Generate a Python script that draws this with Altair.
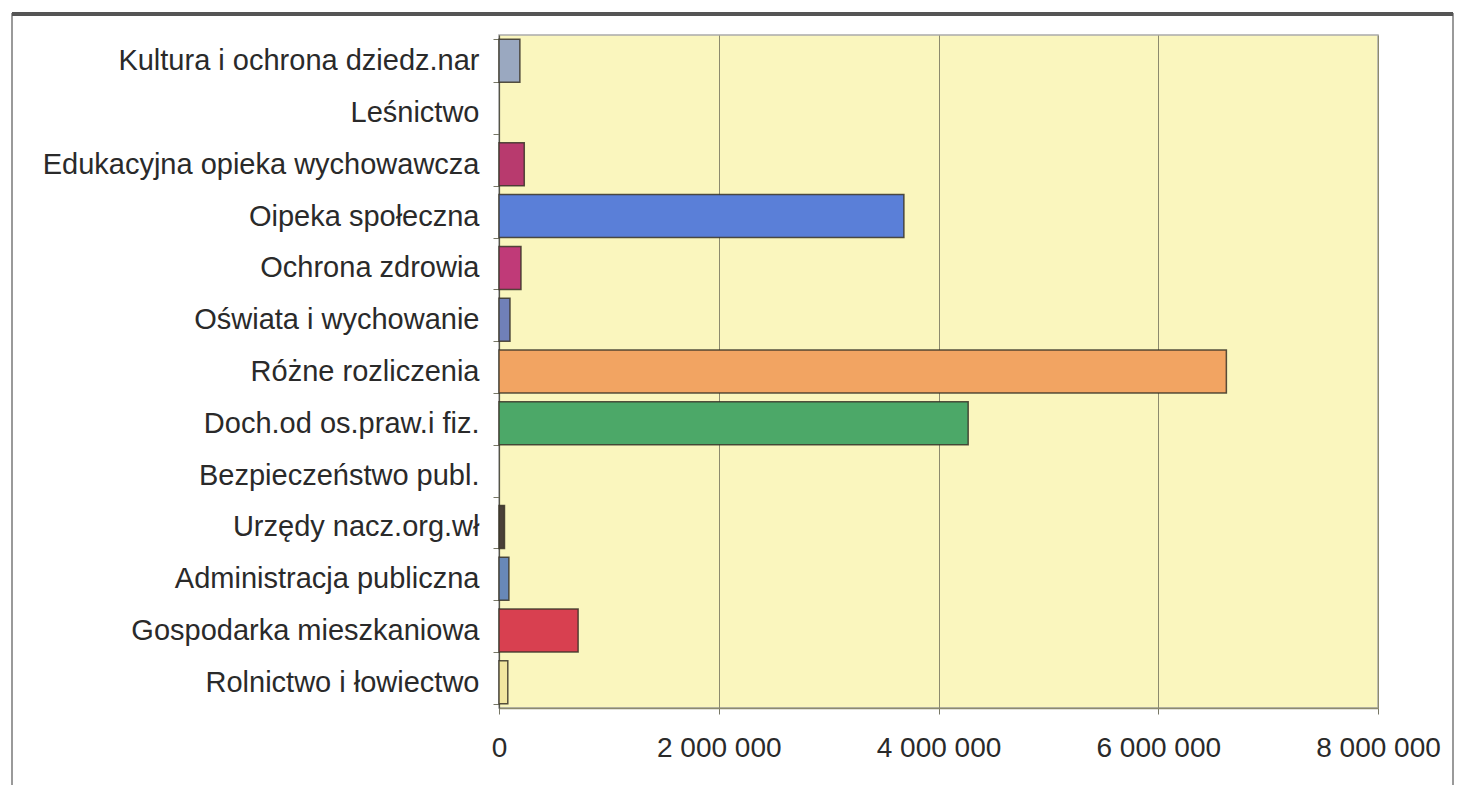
import altair as alt
import pandas as pd

categories = [
    "Kultura i ochrona dziedz.nar",
    "Leśnictwo",
    "Edukacyjna opieka wychowawcza",
    "Oipeka społeczna",
    "Ochrona zdrowia",
    "Oświata i wychowanie",
    "Różne rozliczenia",
    "Doch.od os.praw.i fiz.",
    "Bezpieczeństwo publ.",
    "Urzędy nacz.org.wł",
    "Administracja publiczna",
    "Gospodarka mieszkaniowa",
    "Rolnictwo i łowiectwo",
]
values = [190000, 0, 230000, 3685000, 200000, 100000, 6620000, 4270000, 0, 50000, 90000, 720000, 80000]
colors = ["#9AA8C0", "#C8C8C8", "#B83A6E", "#5A7FD8", "#C03A78", "#7080B8", "#F2A462",
          "#4CA868", "#A0A0A0", "#4A4038", "#6888B8", "#D84050", "#F2E6A0"]
x_ticks = [0, 2000000, 4000000, 6000000, 8000000]

df = pd.DataFrame({"kategoria": categories, "wartosc": values, "kolor": colors})

FONT = "Liberation Sans"
TXT = "#2a2a2a"

bars = alt.Chart(df).mark_bar(stroke="#3a3428", strokeWidth=1.5).encode(
    y=alt.Y("kategoria:N", sort=categories,
            scale=alt.Scale(paddingInner=0.17, paddingOuter=0.08),
            axis=alt.Axis(title=None, labelFont=FONT, labelFontSize=29, labelColor=TXT,
                          labelPadding=14, tickBand="extent", tickSize=6, tickColor="#777766",
                          domainColor="#555548", domainWidth=1.2, labelLimit=600)),
    x=alt.X("wartosc:Q", scale=alt.Scale(domain=[0, 8000000], nice=False),
            axis=alt.Axis(title=None, values=x_ticks, labelFont=FONT, labelFontSize=28,
                          labelColor=TXT, labelPadding=20, tickSize=6, tickColor="#777766",
                          labelFlush=False, labelOverlap=False,
                          domainColor="#8C8A6E", domainWidth=1.5,
                          gridColor="#8C8A6E", gridWidth=1,
                          labelExpr="replace(format(datum.value, ','), regexp(',', 'g'), ' ')")),
    color=alt.Color("kolor:N", scale=None, legend=None),
    strokeOpacity=alt.condition("datum.wartosc > 0", alt.value(0.85), alt.value(0)),
)

frame = alt.Chart(df).mark_rect(fill=None, stroke="#9a9a9a", strokeWidth=2, clip=False).encode(
    x=alt.value(-487), x2=alt.value(954), y=alt.value(-21), y2=alt.value(752)
)
topline = alt.Chart(df).mark_rule(stroke="#555555", strokeWidth=3, clip=False).encode(
    x=alt.value(-487), x2=alt.value(954), y=alt.value(-21)
)

chart = alt.layer(bars, frame, topline).properties(
    width=879, height=673,
    autosize=alt.AutoSizeParams(type="none"),
    padding={"left": 491, "top": 27, "right": 76, "bottom": 77},
).configure(
    background="white",
    view=alt.ViewConfig(fill="#FAF6BE", stroke="#AAAAAA", strokeWidth=1.5),
)

chart.save("out.html", embed_options={"renderer": "svg", "actions": False})
